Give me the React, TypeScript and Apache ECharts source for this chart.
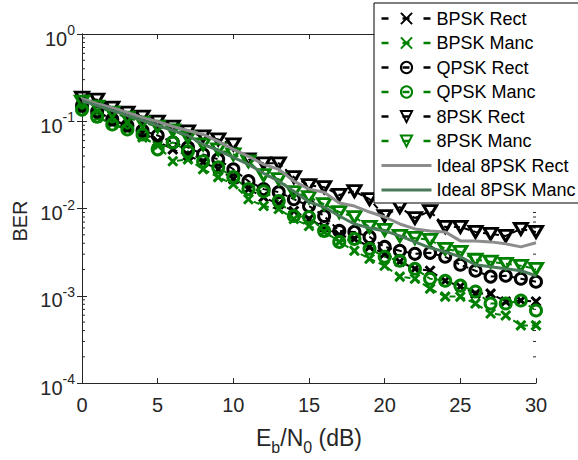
import React, { useEffect, useRef } from 'react';
import * as echarts from 'echarts';

const ebn0 = [0, 1, 2, 3, 4, 5, 6, 7, 8, 9, 10, 11, 12, 13, 14, 15, 16, 17, 18, 19, 20, 21, 22, 23, 24, 25, 26, 27, 28, 29, 30];

const bpskRect = [0.155, 0.129, 0.105, 0.0871, 0.0744, 0.0588, 0.0477, 0.0407, 0.0339, 0.0282, 0.0217, 0.0167, 0.0135, 0.01125, 0.00937, 0.00759, 0.00615, 0.00499, 0.00449, 0.00364, 0.00303, 0.00246, 0.00204, 0.00194, 0.00149, 0.00128, 0.00106, 0.00106, 0.00086, 0.000883, 0.00086];
const bpskManc = [0.136, 0.11, 0.0944, 0.0805, 0.0653, 0.0529, 0.0348, 0.0366, 0.0282, 0.0229, 0.019, 0.0128, 0.0107, 0.00987, 0.00759, 0.00632, 0.0054, 0.00415, 0.00328, 0.00266, 0.00221, 0.00166, 0.00157, 0.00121, 0.00098, 0.00098, 0.000816, 0.000628, 0.000596, 0.000458, 0.000458];
const qpskRect = [0.151, 0.129, 0.105, 0.0894, 0.0785, 0.0688, 0.0573, 0.0502, 0.0418, 0.0366, 0.0282, 0.0206, 0.0167, 0.0154, 0.0128, 0.0107, 0.00821, 0.00554, 0.0054, 0.00473, 0.00364, 0.00328, 0.00303, 0.00311, 0.0028, 0.00227, 0.00194, 0.00166, 0.0017, 0.00157, 0.00145];
const qpskManc = [0.136, 0.113, 0.0918, 0.0805, 0.0706, 0.0477, 0.0573, 0.0452, 0.0348, 0.0297, 0.0229, 0.0167, 0.0158, 0.0122, 0.00821, 0.008, 0.00554, 0.00415, 0.00449, 0.00346, 0.0028, 0.00252, 0.00204, 0.00157, 0.00149, 0.00131, 0.00112, 0.000816, 0.000816, 0.000883, 0.000679];
const psk8Rect = [0.187, 0.177, 0.1435, 0.126, 0.113, 0.0993, 0.0871, 0.0764, 0.067, 0.0619, 0.0543, 0.0366, 0.033, 0.033, 0.0229, 0.0185, 0.0176, 0.0143, 0.0158, 0.0128, 0.00821, 0.0104, 0.00779, 0.00937, 0.00615, 0.00615, 0.0054, 0.00512, 0.00486, 0.00584, 0.0054];
const psk8Manc = [0.168, 0.147, 0.126, 0.11, 0.0968, 0.0871, 0.0785, 0.0653, 0.0543, 0.0477, 0.0418, 0.0348, 0.0241, 0.0217, 0.0154, 0.0135, 0.01125, 0.00912, 0.008, 0.00615, 0.00569, 0.00486, 0.00461, 0.00438, 0.00346, 0.00319, 0.00259, 0.00246, 0.00233, 0.00221, 0.00204];
const ideal8Rect = [0.182, 0.159, 0.1435, 0.126, 0.11, 0.0993, 0.0871, 0.0785, 0.0706, 0.0588, 0.0477, 0.0397, 0.0321, 0.0282, 0.0206, 0.0167, 0.0154, 0.01155, 0.01068, 0.00912, 0.008, 0.00666, 0.00584, 0.00554, 0.0054, 0.00426, 0.00426, 0.00415, 0.00394, 0.00364, 0.00405];
const ideal8Manc = [0.172, 0.151, 0.133, 0.116, 0.102, 0.0894, 0.0785, 0.0688, 0.0543, 0.0464, 0.0386, 0.0321, 0.0254, 0.0206, 0.0158, 0.0119, 0.0104, 0.00821, 0.00666, 0.006, 0.00554, 0.00486, 0.00415, 0.00355, 0.00319, 0.0028, 0.00227, 0.00215, 0.00204, 0.00194, 0.0017];

const yMinorTicks = [
  2e-4, 3e-4, 4e-4, 5e-4, 6e-4, 7e-4, 8e-4, 9e-4,
  2e-3, 3e-3, 4e-3, 5e-3, 6e-3, 7e-3, 8e-3, 9e-3,
  2e-2, 3e-2, 4e-2, 5e-2, 6e-2, 7e-2, 8e-2, 9e-2,
  2e-1, 3e-1, 4e-1, 5e-1, 6e-1, 7e-1, 8e-1, 9e-1,
];

const FONT = '"Liberation Sans", Arial, Helvetica, sans-serif';
const AXIS = '#262626';
const BLACK = '#000000';
const GREEN = '#008000';
const GRAY = '#8c8c8c';
const DKGREEN = '#4a7a5a';
const X_SYM = 'path://M0,0L10,10M10,0L0,10';

export default function App() {
  const ref = useRef<HTMLDivElement>(null);
  useEffect(() => {
    const chart = echarts.init(ref.current!, null, { renderer: 'svg' });
    const pairs = (ys: number[]) => ebn0.map((x, i) => [x, ys[i]]);
    const mk = (name: string, ys: number[], color: string, symbol: string, size: any, rotate = 0) => ({
      name,
      type: 'line',
      data: pairs(ys),
      symbol,
      symbolSize: size,
      symbolRotate: rotate,
      showSymbol: true,
      showAllSymbol: true,
      lineStyle: { color, width: 2, type: [6, 4] },
      itemStyle: { color: 'rgba(0,0,0,0)', borderColor: color, borderWidth: 3 },
      emphasis: { disabled: true },
      z: 3,
    });
    const ideal = (name: string, ys: number[], color: string) => ({
      name,
      type: 'line',
      data: pairs(ys),
      symbol: 'none',
      lineStyle: { color, width: 3 },
      itemStyle: { color },
      emphasis: { disabled: true },
      z: 4,
    });
    const names = ['BPSK Rect', 'BPSK Manc', 'QPSK Rect', 'QPSK Manc', '8PSK Rect', '8PSK Manc', 'Ideal 8PSK Rect', 'Ideal 8PSK Manc'];
    const option: any = {
      animation: false,
      grid: { left: 82, right: 42, top: 34, bottom: 75, containLabel: false },
      graphic: [
        {
          type: 'text',
          x: 20,
          y: 221,
          rotation: Math.PI / 2,
          silent: true,
          style: { text: 'BER', fontSize: 20, fontFamily: FONT, fill: AXIS, align: 'center', verticalAlign: 'middle' },
        },
      ],
      xAxis: [
        {
          type: 'value', min: 0, max: 30, interval: 5,
          axisLine: { show: true, lineStyle: { color: AXIS, width: 1 } },
          axisTick: { show: true, inside: true, length: 5, lineStyle: { color: AXIS } },
          axisLabel: { color: AXIS, fontSize: 20, fontFamily: FONT, margin: 12 },
          splitLine: { show: false },
          name: '{b|E}{s|b}{b|/N}{s|0}{b| (dB)}',
          nameLocation: 'middle',
          nameGap: 36,
          nameTextStyle: {
            rich: {
              b: { fontSize: 23, lineHeight: 23, fontFamily: FONT, color: AXIS },
              s: { fontSize: 16, lineHeight: 16, padding: [19, 0, 0, 0], fontFamily: FONT, color: AXIS },
            },
          },
        },
        {
          type: 'value', min: 0, max: 30, interval: 5, position: 'top',
          axisLine: { show: true, lineStyle: { color: AXIS, width: 1 } },
          axisTick: { show: true, inside: true, length: 5, lineStyle: { color: AXIS } },
          axisLabel: { show: false },
          splitLine: { show: false },
        },
      ],
      yAxis: [
        {
          type: 'log', logBase: 10, min: 1e-4, max: 1,
          axisLine: { show: true, lineStyle: { color: AXIS, width: 1 } },
          axisTick: { show: true, inside: true, length: 5, lineStyle: { color: AXIS } },
          axisLabel: {
            margin: 7,
            formatter: (v: number) => `{b|10}{s|${Math.round(Math.log10(v))}}`,
            rich: {
              b: { fontSize: 20, lineHeight: 20, padding: [9, 0, 0, 0], fontFamily: FONT, color: AXIS },
              s: { fontSize: 14, lineHeight: 14, padding: [0, 0, 8, 0], fontFamily: FONT, color: AXIS },
            },
          },
          splitLine: { show: false },
        },
        {
          type: 'log', logBase: 10, min: 1e-4, max: 1, position: 'right',
          axisLine: { show: true, lineStyle: { color: AXIS, width: 1 } },
          axisTick: { show: true, inside: true, length: 5, lineStyle: { color: AXIS } },
          axisLabel: { show: false },
          splitLine: { show: false },
        },
      ],
      legend: {
        data: names.map((n, i) =>
          i < 6
            ? { name: n, lineStyle: { type: [7, 14], width: 2.5 } }
            : { name: n, lineStyle: { width: 3 }, itemStyle: { color: 'rgba(0,0,0,0)', borderColor: 'rgba(0,0,0,0)', borderWidth: 0 } }
        ),
        orient: 'vertical',
        left: 374,
        top: 3,
        itemWidth: 50,
        itemHeight: 14,
        itemGap: 4.5,
        padding: [5.5, 12, 3, 6],
        backgroundColor: '#ffffff',
        borderColor: '#000000',
        borderWidth: 1,
        borderRadius: 0,
        selectedMode: false,
        textStyle: { fontSize: 18, lineHeight: 20, fontFamily: FONT, color: '#000' },
      },
      series: [
        mk('BPSK Rect', bpskRect, BLACK, X_SYM, 9),
        mk('BPSK Manc', bpskManc, GREEN, X_SYM, 9),
        mk('QPSK Rect', qpskRect, BLACK, 'circle', 11),
        mk('QPSK Manc', qpskManc, GREEN, 'circle', 11),
        mk('8PSK Rect', psk8Rect, BLACK, 'triangle', [13, 11], 180),
        mk('8PSK Manc', psk8Manc, GREEN, 'triangle', [13, 11], 180),
        ideal('Ideal 8PSK Rect', ideal8Rect, GRAY),
        ideal('Ideal 8PSK Manc', ideal8Manc, DKGREEN),
        {
          type: 'custom',
          name: 'minorTicks',
          silent: true,
          clip: false,
          z: 2,
          data: yMinorTicks.map((v) => [0, v]),
          encode: { x: 0, y: 1 },
          renderItem: (params: any, api: any) => {
            const v = api.value(1);
            const l = api.coord([0, v]);
            const r = api.coord([30, v]);
            return {
              type: 'group',
              children: [
                { type: 'line', shape: { x1: l[0], y1: l[1], x2: l[0] + 3, y2: l[1] }, style: { stroke: AXIS, lineWidth: 1 } },
                { type: 'line', shape: { x1: r[0] - 3, y1: r[1], x2: r[0], y2: r[1] }, style: { stroke: AXIS, lineWidth: 1 } },
              ],
            };
          },
        },
      ],
    };
    chart.setOption(option);
    return () => chart.dispose();
  }, []);
  return <div ref={ref} style={{ width: 578, height: 460, position: 'absolute', left: 0, top: 0 }} />;
}
